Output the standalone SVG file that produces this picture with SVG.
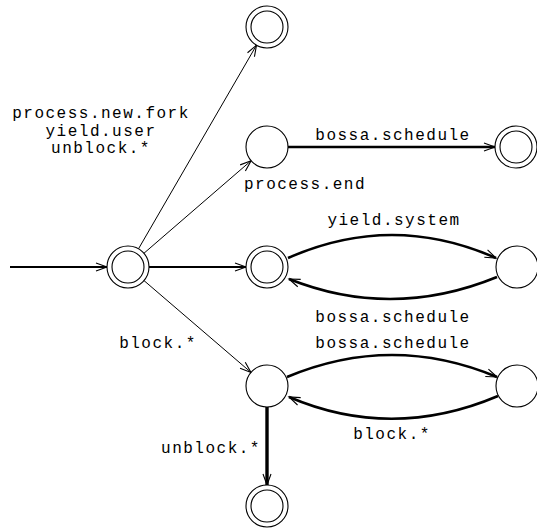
<svg xmlns="http://www.w3.org/2000/svg" width="537" height="531" viewBox="0 0 537 531">
<style>
.st{fill:#fff;stroke:#000;stroke-width:1.1}
.e{fill:none;stroke:#000}
.thin{stroke-width:1}
.med{stroke-width:1.8}
.thk{stroke-width:2.6}
.xthk{stroke-width:3.4}
text{font-family:"Liberation Mono","Courier New",monospace;font-size:16px;letter-spacing:1.5px;fill:#000;text-anchor:middle}
</style>
<defs>
<marker id="arr" markerUnits="userSpaceOnUse" markerWidth="12" markerHeight="9" refX="11" refY="4" orient="auto" overflow="visible">
<path d="M0,0 L11,4 L0,8" fill="none" stroke="#000" stroke-width="1.1"/>
</marker>
</defs>
<rect width="537" height="531" fill="#fff"/>
<g id="connectors">
<line class="e med" x1="10" y1="267" x2="107" y2="267" marker-end="url(#arr)"/>
<line class="e thin" x1="138.5" y1="248.8" x2="256.5" y2="45.2" marker-end="url(#arr)"/>
<line class="e thin" x1="143.9" y1="253.3" x2="251.1" y2="160.7" marker-end="url(#arr)"/>
<line class="e thin" x1="144" y1="280.6" x2="251" y2="372.4" marker-end="url(#arr)"/>
<line class="e med" x1="149" y1="267" x2="246" y2="267" marker-end="url(#arr)"/>
<line class="e thk" x1="288" y1="147" x2="495" y2="147" marker-end="url(#arr)"/>
<path class="e thk" d="M288,258 Q392,212 496,258" marker-end="url(#arr)"/>
<path class="e thk" d="M497,277 Q392,320 289,279" marker-end="url(#arr)"/>
<path class="e thk" d="M287,377 Q392,333 497,377" marker-end="url(#arr)"/>
<path class="e thk" d="M498,396 Q392,441 289,397" marker-end="url(#arr)"/>
<line class="e xthk" x1="267" y1="407" x2="267" y2="485" marker-end="url(#arr)"/>
</g>
<g id="labels">
<text x="101" y="118">process.new.fork</text>
<text x="101" y="136">yield.user</text>
<text x="101" y="153">unblock.*</text>
<text x="305" y="189">process.end</text>
<text x="393" y="140">bossa.schedule</text>
<text x="394" y="225">yield.system</text>
<text x="393" y="322">bossa.schedule</text>
<text x="393" y="348">bossa.schedule</text>
<text x="158" y="348">block.*</text>
<text x="392" y="439">block.*</text>
<text x="211" y="453">unblock.*</text>
</g>
<g id="n_top_final"><circle class="st" cx="267" cy="27" r="21"/><circle class="st" cx="267" cy="27" r="16"/></g>
<g id="n_a"><circle class="st" cx="267" cy="147" r="21"/></g>
<g id="n_right_final"><circle class="st" cx="516" cy="147" r="21"/><circle class="st" cx="516" cy="147" r="16"/></g>
<g id="n_start"><circle class="st" cx="128" cy="267" r="21"/><circle class="st" cx="128" cy="267" r="16"/></g>
<g id="n_b"><circle class="st" cx="267" cy="267" r="21"/><circle class="st" cx="267" cy="267" r="16"/></g>
<g id="n_c"><circle class="st" cx="517" cy="267" r="21"/></g>
<g id="n_d"><circle class="st" cx="267" cy="386" r="21"/></g>
<g id="n_e"><circle class="st" cx="517" cy="386" r="21"/></g>
<g id="n_bottom_final"><circle class="st" cx="267" cy="506" r="21"/><circle class="st" cx="267" cy="506" r="16"/></g>
</svg>
